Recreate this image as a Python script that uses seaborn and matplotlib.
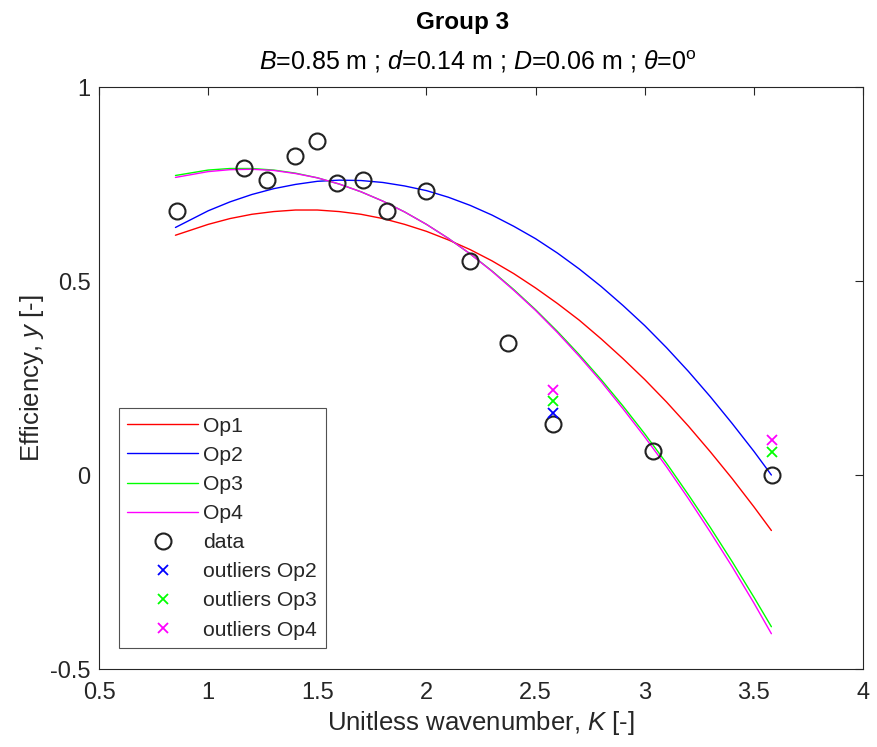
import numpy as np
import pandas as pd
import matplotlib
matplotlib.use("Agg")
import matplotlib.pyplot as plt
import seaborn as sns
from matplotlib.lines import Line2D

# ---- data ----
data_K = [0.857, 1.164, 1.27, 1.398, 1.499, 1.59, 1.709, 1.819, 1.998, 2.20, 2.374, 2.58, 3.038, 3.583]
data_y = [0.680, 0.791, 0.760, 0.822, 0.861, 0.753, 0.760, 0.680, 0.732, 0.551, 0.340, 0.131, 0.062, 0.0]

curve_K = [0.85, 1.0, 1.1, 1.2, 1.3, 1.4, 1.5, 1.6, 1.7, 1.8, 1.9, 2.0, 2.1, 2.2, 2.3, 2.4,
           2.5, 2.6, 2.7, 2.8, 2.9, 3.0, 3.1, 3.2, 3.3, 3.4, 3.5, 3.58]
op1_y = [0.618, 0.646, 0.661, 0.672, 0.679, 0.683, 0.683, 0.679, 0.672, 0.661, 0.646, 0.628, 0.606, 0.581,
         0.552, 0.519, 0.482, 0.442, 0.399, 0.351, 0.300, 0.246, 0.188, 0.126, 0.060, -0.009, -0.082, -0.143]
op2_y = [0.638, 0.681, 0.704, 0.723, 0.738, 0.749, 0.757, 0.760, 0.759, 0.754, 0.745, 0.733, 0.716, 0.695,
         0.670, 0.641, 0.609, 0.572, 0.531, 0.486, 0.437, 0.385, 0.328, 0.267, 0.202, 0.133, 0.061, 0.000]
op3_y = [0.772, 0.786, 0.790, 0.790, 0.786, 0.778, 0.766, 0.750, 0.730, 0.706, 0.678, 0.646, 0.610, 0.570,
         0.526, 0.478, 0.426, 0.370, 0.310, 0.246, 0.178, 0.106, 0.030, -0.051, -0.135, -0.223, -0.315, -0.391]
op4_y = [0.767, 0.782, 0.787, 0.788, 0.785, 0.777, 0.766, 0.750, 0.730, 0.706, 0.678, 0.646, 0.610, 0.570,
         0.525, 0.476, 0.424, 0.367, 0.306, 0.241, 0.171, 0.098, 0.021, -0.061, -0.147, -0.236, -0.330, -0.409]

out_op2_K = [2.58]
out_op2_y = [0.160]
out_op3_K = [2.58, 3.583]
out_op3_y = [0.190, 0.060]
out_op4_K = [2.58, 3.583]
out_op4_y = [0.220, 0.090]

x_ticks = [0.5, 1, 1.5, 2, 2.5, 3, 3.5, 4]
x_ticklabels = ["0.5", "1", "1.5", "2", "2.5", "3", "3.5", "4"]
y_ticks = [-0.5, 0, 0.5, 1]
y_ticklabels = ["-0.5", "0", "0.5", "1"]

series_names = ["Op1", "Op2", "Op3", "Op4"]
legend_labels = ["Op1", "Op2", "Op3", "Op4", "data", "outliers Op2", "outliers Op3", "outliers Op4"]

# ---- style ----
sns.set_style("white")
plt.rcParams['font.family'] = ['Liberation Sans', 'DejaVu Sans']
plt.rcParams['mathtext.fontset'] = 'custom'
plt.rcParams['mathtext.rm'] = 'Liberation Sans'
plt.rcParams['mathtext.it'] = 'Liberation Sans:italic'
plt.rcParams['mathtext.bf'] = 'Liberation Sans:bold'

fig = plt.figure(figsize=(8.78, 7.47), dpi=100)
ax = fig.add_axes([0.1128, 0.1044, 0.8702, 0.7791])

n = len(curve_K)
curves = pd.DataFrame({
    "K": curve_K * 4,
    "y": op1_y + op2_y + op3_y + op4_y,
    "series": [s for s in series_names for _ in range(n)],
})
palette = {"Op1": "#ff0000", "Op2": "#0000ff", "Op3": "#00ff00", "Op4": "#ff00ff"}
sns.lineplot(data=curves, x="K", y="y", hue="series", palette=palette, ax=ax,
             linewidth=1.0, sort=False, legend=False)

circ = dict(linestyle="none", marker="o", markersize=11.5, markerfacecolor="none",
            markeredgecolor="#222222", markeredgewidth=1.5)
xs = dict(linestyle="none", marker="x", markersize=7.5, markeredgewidth=1.3)

ax.plot(data_K, data_y, **circ)
ax.plot(out_op2_K, out_op2_y, color="#0000ff", **xs)
ax.plot(out_op3_K, out_op3_y, color="#00ff00", **xs)
ax.plot(out_op4_K, out_op4_y, color="#ff00ff", **xs)

ax.set_xlim(0.5, 4)
ax.set_ylim(-0.5, 1)
ax.set_xticks(x_ticks)
ax.set_xticklabels(x_ticklabels)
ax.set_yticks(y_ticks)
ax.set_yticklabels(y_ticklabels)
ax.tick_params(direction="in", length=6, width=0.8, top=True, right=True,
               labelsize=17, colors="#262626")
ax.tick_params(axis="x", pad=9)
ax.tick_params(axis="y", pad=6)
for s in ax.spines.values():
    s.set_visible(True)
    s.set_color("#262626")
    s.set_linewidth(0.8)

ax.set_xlabel("Unitless wavenumber, $K$ [-]", fontsize=18.5, color="#262626", labelpad=4)
ax.set_ylabel("Efficiency, $y$ [-]", fontsize=18.5, color="#262626", labelpad=3)

fig.text(0.5444, 1 - 62 / 747, "$B$=0.85 m ; $d$=0.14 m ; $D$=0.06 m ; $\\theta$=0$^\\mathrm{o}$",
         ha="center", va="center", fontsize=18, color="#000000")
fig.text(463 / 878, 1 - 22 / 747, "Group 3", ha="center", va="center", fontsize=17.5,
         fontweight="bold", color="#000000")

handles = [Line2D([], [], color=palette[s], lw=1.0) for s in series_names]
handles += [
    Line2D([], [], **circ),
    Line2D([], [], color="#0000ff", **xs),
    Line2D([], [], color="#00ff00", **xs),
    Line2D([], [], color="#ff00ff", **xs),
]
leg = ax.legend(handles, legend_labels, loc="lower left", bbox_to_anchor=(0.026, 0.036),
                borderaxespad=0, fontsize=15.2, handlelength=3.35, handletextpad=0.25,
                labelspacing=0.48, frameon=True, fancybox=False, borderpad=0.4)
leg.get_frame().set_edgecolor("#262626")
leg.get_frame().set_linewidth(0.8)

fig.savefig("out.png", dpi=100, facecolor="white")
